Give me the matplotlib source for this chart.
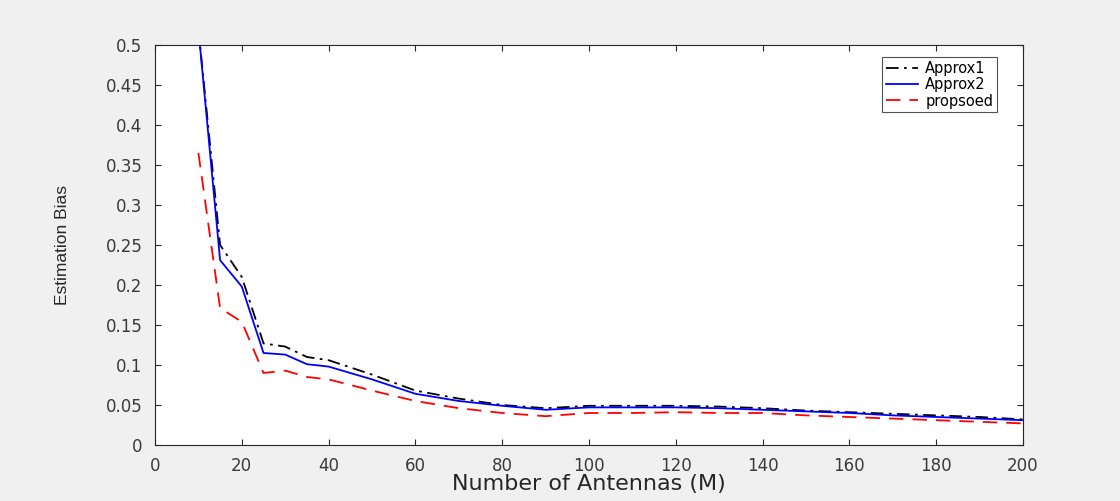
import matplotlib
matplotlib.use('Agg')
import matplotlib.pyplot as plt

antennas = [10, 15, 20, 25, 30, 35, 40, 50, 60, 70, 80, 90, 100, 110, 120, 130, 140, 150, 160, 170, 180, 190, 200]
approx1 = [0.52, 0.25, 0.21, 0.127, 0.123, 0.11, 0.106, 0.088, 0.068, 0.058, 0.05, 0.046, 0.049, 0.049,
           0.049, 0.048, 0.046, 0.043, 0.041, 0.039, 0.037, 0.035, 0.032]
approx2 = [0.52, 0.231, 0.198, 0.115, 0.113, 0.101, 0.098, 0.082, 0.064, 0.055, 0.049, 0.044, 0.047, 0.047,
           0.047, 0.046, 0.044, 0.042, 0.040, 0.037, 0.035, 0.033, 0.031]
proposed = [0.365, 0.171, 0.154, 0.09, 0.093, 0.085, 0.082, 0.068, 0.055, 0.046, 0.040, 0.036, 0.040, 0.040,
            0.041, 0.040, 0.040, 0.037, 0.035, 0.033, 0.031, 0.029, 0.027]

xticks = list(range(0, 201, 20))
yticks = [0, 0.05, 0.1, 0.15, 0.2, 0.25, 0.3, 0.35, 0.4, 0.45, 0.5]
ytick_labels = ['0', '0.05', '0.1', '0.15', '0.2', '0.25', '0.3', '0.35', '0.4', '0.45', '0.5']

plt.rcParams['font.family'] = ['DejaVu Sans']

fig = plt.figure(figsize=(11.2, 5.01), dpi=100, facecolor='#f0f0f0')
ax = fig.add_axes([0.1384, 0.1118, 0.775, 0.7984])
ax.set_facecolor('white')

ax.plot(antennas, approx1, color='black', linestyle=(0, (7, 3, 1.5, 3)), lw=1.3, label='Approx1')
ax.plot(antennas, approx2, color='#0000ff', linestyle='-', lw=1.3, label='Approx2')
ax.plot(antennas, proposed, color='#ff0000', linestyle=(0, (8, 5)), lw=1.3, label='propsoed')

ax.set_xlim(0, 200)
ax.set_ylim(0, 0.5)
ax.set_xticks(xticks)
ax.set_yticks(yticks)
ax.set_yticklabels(ytick_labels)
ax.tick_params(direction='in', length=4, width=0.8, top=True, right=True,
               labelsize=12, colors='#262626', labelcolor='#3a3a3a', pad=9)
for s in ax.spines.values():
    s.set_color('#262626')
    s.set_linewidth(0.8)

ax.set_xlabel('Number of Antennas (M)', fontsize=16, color='#262626', labelpad=-1)
ax.set_ylabel('Estimation Bias', fontsize=12.5, color='#262626',
              family=['Liberation Sans Narrow', 'Liberation Sans'], labelpad=26)

leg = ax.legend(loc='upper right', bbox_to_anchor=(0.97, 0.97), fontsize=10.5, frameon=True,
                fancybox=False, edgecolor='#262626', handlelength=2.2, borderpad=0.25,
                labelspacing=0.1, handletextpad=0.5, borderaxespad=0)
leg.get_frame().set_linewidth(0.8)

plt.savefig('out.png', dpi=100, facecolor=fig.get_facecolor())
